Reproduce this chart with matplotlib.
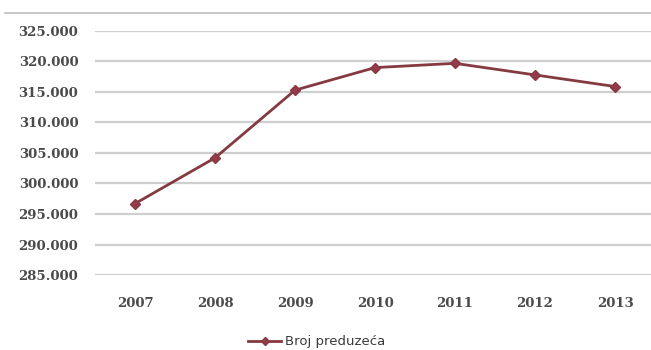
import matplotlib.pyplot as plt
from matplotlib.lines import Line2D
from matplotlib.ticker import FuncFormatter, MultipleLocator

# number of companies per year
years = ['2007', '2008', '2009', '2010', '2011', '2012', '2013']
companies = [296700, 304200, 315300, 319000, 319700, 317800, 315900]
series_name = 'Broj preduzeća'

W, H = 651, 350
fig = plt.figure(figsize=(W / 100, H / 100), dpi=100)
fig.patch.set_facecolor('white')

# plot area in pixel terms
left, right, top, bottom = 95, 655, 31, 275
ax = fig.add_axes([left / W, (H - bottom) / H, (right - left) / W, (bottom - top) / H])

x = list(range(len(years)))
ax.plot(x, companies, color='#843a40', lw=2, marker='D', markersize=5,
        markerfacecolor='#96394a', markeredgecolor='#843a40', zorder=3)

ax.set_xlim(-0.5, len(years) - 0.5)
ax.set_ylim(285000, 325000)
ax.yaxis.set_major_locator(MultipleLocator(5000))
ax.yaxis.set_major_formatter(FuncFormatter(lambda v, p: f'{v:,.0f}'.replace(',', '.')))
ax.set_xticks(x)
ax.set_xticklabels(years)

ax.grid(axis='y', color='#cfcfcf', lw=1.6)
ax.set_axisbelow(True)
for s in ax.spines.values():
    s.set_visible(False)
ax.tick_params(axis='both', length=0, labelsize=9.5, labelcolor='#4a4a4a')
ax.tick_params(axis='y', pad=12)
ax.tick_params(axis='x', pad=16)
for t in ax.get_xticklabels() + ax.get_yticklabels():
    t.set_fontfamily('DejaVu Serif')
    t.set_fontweight('bold')

# thin border line at the top of the chart
fig.add_artist(Line2D([5 / W, 1], [(H - 13) / H] * 2, color='#bdbdbd', lw=1.2))

handle = Line2D([], [], color='#843a40', lw=2, marker='D', markersize=4,
                markerfacecolor='#96394a')
fig.legend([handle], [series_name], loc='center', bbox_to_anchor=(317 / W, 8 / H),
           frameon=False, handlelength=2.5, handletextpad=0.3,
           labelcolor='#3a3a3a', prop={'family': 'DejaVu Sans', 'size': 9.5})

fig.savefig('out.png', dpi=100, facecolor='white')
